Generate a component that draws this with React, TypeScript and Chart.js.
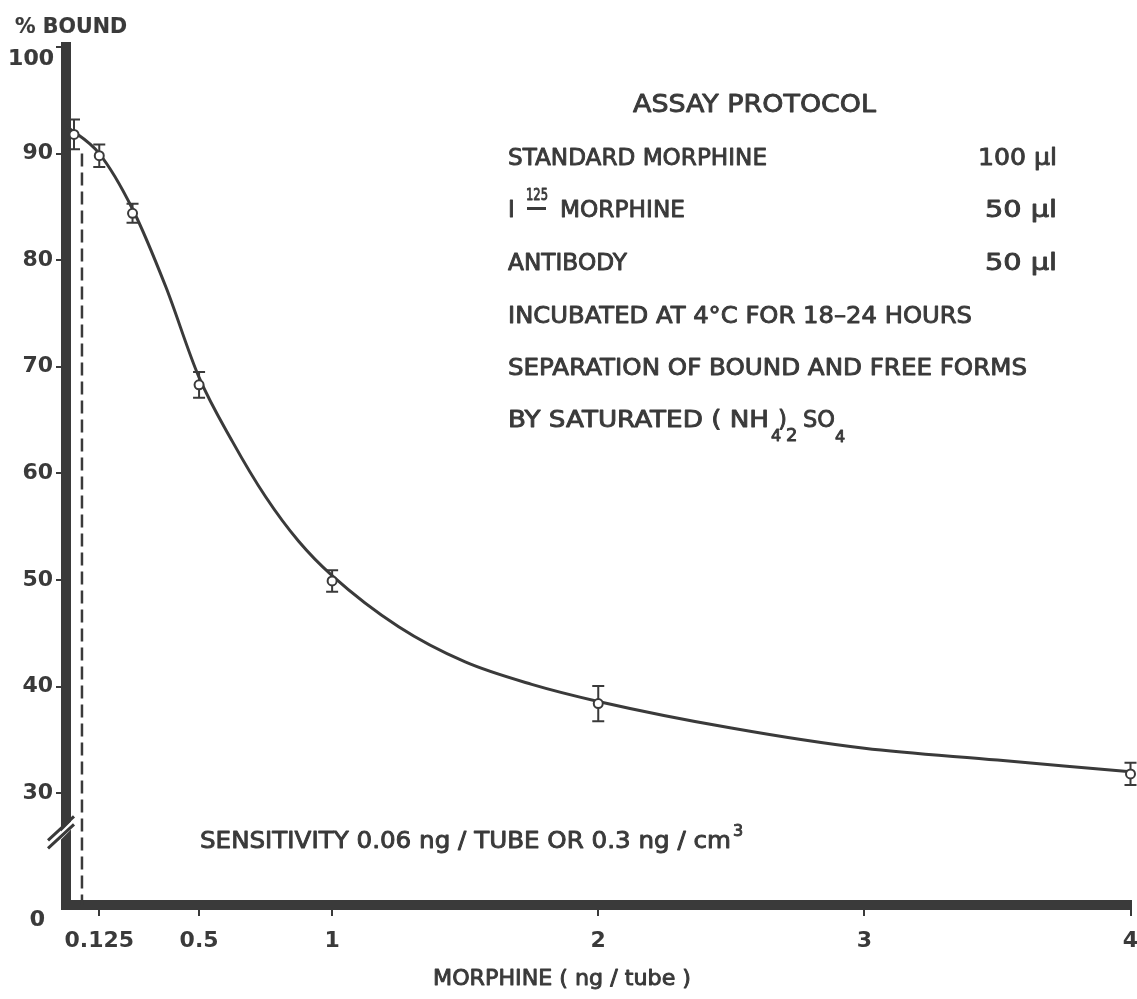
import React, { useEffect, useRef } from 'react';
import { Chart, registerables } from 'chart.js';

Chart.register(...registerables);

// ---- data ----
const concentrations = [0, 0.125, 0.25, 0.5, 1, 2, 4];
const boundMeans = [91.8, 89.8, 84.4, 68.3, 49.9, 38.4, 31.8];
const boundErrors = [1.4, 1.05, 0.9, 1.2, 1.0, 1.65, 1.05];

const curveX = [0, 0.125, 0.25, 0.375, 0.5, 0.625, 0.75, 0.875, 1, 1.25, 1.5, 1.75, 2, 2.5, 3, 3.5, 4];
const curveY = [92.6, 90.0, 84.8, 77.5, 69.0, 63.0, 57.8, 53.6, 50.4, 45.6, 42.3, 40.2, 38.6, 36.1, 34.2, 33.1, 32.0];

const xTickValues = [0.125, 0.5, 1, 2, 3, 4];
const yTickValues = [30, 40, 50, 60, 70, 80, 90, 100];

const sensitivityX = 0.06;
const sensitivityTop = 90;
const yAxisMin = 19.5;
const yAxisMax = 100;
const breakValue = 26.5;

const INK = '#3a3a3a';
const FONT = '"DejaVu Sans", "Liberation Sans", sans-serif';

// draw text (regular weight, slightly emboldened), optionally stretched/condensed to a target width
function txt(ctx: CanvasRenderingContext2D, s: string, x: number, y: number, size: number, targetW?: number, align: CanvasTextAlign = 'left', bold = false) {
  ctx.save();
  ctx.font = `${bold ? 'bold ' : ''}${size}px ${FONT}`;
  ctx.textAlign = align;
  ctx.textBaseline = 'alphabetic';
  ctx.fillStyle = INK;
  ctx.strokeStyle = INK;
  ctx.lineJoin = 'round';
  const natural = ctx.measureText(s).width;
  const k = targetW ? targetW / natural : 1;
  ctx.translate(x, y);
  ctx.scale(k, 1);
  ctx.lineWidth = bold ? 0.2 : 0.9;
  ctx.fillText(s, 0, 0);
  ctx.strokeText(s, 0, 0);
  ctx.restore();
}

const paperPlugin = {
  id: 'paper',
  beforeDraw(chart: any) {
    const ctx = chart.ctx;
    ctx.save();
    ctx.fillStyle = '#ffffff';
    ctx.fillRect(0, 0, chart.width, chart.height);
    ctx.restore();
  },
};

const errorBarPlugin = {
  id: 'errorBars',
  beforeDatasetsDraw(chart: any) {
    const ctx = chart.ctx;
    const xs = chart.scales.x;
    const ys = chart.scales.y;
    ctx.save();
    ctx.strokeStyle = INK;
    ctx.lineWidth = 2;
    concentrations.forEach((c, i) => {
      const px = xs.getPixelForValue(c) + (c === 0 ? 8 : 0);
      const top = ys.getPixelForValue(boundMeans[i] + boundErrors[i]);
      const bot = ys.getPixelForValue(boundMeans[i] - boundErrors[i]);
      ctx.beginPath();
      ctx.moveTo(px, top);
      ctx.lineTo(px, bot);
      ctx.moveTo(px - 6, top);
      ctx.lineTo(px + 6, top);
      ctx.moveTo(px - 6, bot);
      ctx.lineTo(px + 6, bot);
      ctx.stroke();
    });
    ctx.restore();
  },
};

const annotationPlugin = {
  id: 'annotations',
  afterDraw(chart: any) {
    const ctx = chart.ctx;
    const ys = chart.scales.y;
    const xs = chart.scales.x;
    ctx.save();

    // axis break marks
    const by = ys.getPixelForValue(breakValue);
    const ax = xs.left;
    ctx.fillStyle = '#ffffff';
    ctx.beginPath();
    ctx.moveTo(ax - 8, by + 4);
    ctx.lineTo(ax + 8, by - 12);
    ctx.lineTo(ax + 8, by - 4);
    ctx.lineTo(ax - 8, by + 12);
    ctx.closePath();
    ctx.fill();
    ctx.strokeStyle = INK;
    ctx.lineWidth = 3;
    ctx.beginPath();
    ctx.moveTo(ax - 18, by + 10);
    ctx.lineTo(ax + 8, by - 14);
    ctx.moveTo(ax - 18, by + 18);
    ctx.lineTo(ax + 8, by - 6);
    ctx.stroke();

    // axis titles and end labels
    txt(ctx, '% BOUND', 15, 33, 21, 112, 'left', true);
    txt(ctx, '100', 54, 65, 22, undefined, 'right', true);
    txt(ctx, '0', 45, 926, 22, undefined, 'right', true);
    txt(ctx, 'MORPHINE ( ng / tube )', 433, 985, 21, 258);

    // protocol box
    txt(ctx, 'ASSAY PROTOCOL', 633, 112, 25, 243);
    txt(ctx, 'STANDARD MORPHINE', 508, 165, 23, 259);
    txt(ctx, '100 µl', 1057, 165, 23, 79, 'right');
    txt(ctx, 'I', 508, 217, 23);
    txt(ctx, '125', 526, 200, 16, 22);
    ctx.fillStyle = INK;
    ctx.fillRect(527, 207, 19, 3);
    txt(ctx, 'MORPHINE', 560, 217, 23, 125);
    txt(ctx, '50 µl', 1057, 217, 23, 72, 'right');
    txt(ctx, 'ANTIBODY', 508, 270, 23, 119);
    txt(ctx, '50 µl', 1057, 270, 23, 72, 'right');
    txt(ctx, 'INCUBATED AT 4°C FOR 18–24 HOURS', 508, 323, 23, 464);
    txt(ctx, 'SEPARATION OF BOUND AND FREE FORMS', 508, 375, 23, 519);
    txt(ctx, 'BY SATURATED ( NH', 508, 427, 23, 261);
    txt(ctx, '4', 771, 441, 16);
    txt(ctx, ')', 778, 427, 23);
    txt(ctx, '2', 786, 441, 18);
    txt(ctx, 'SO', 803, 427, 23, 32);
    txt(ctx, '4', 835, 442, 16);

    // sensitivity note
    txt(ctx, 'SENSITIVITY 0.06 ng / TUBE OR 0.3 ng / cm', 200, 848, 23, 531);
    txt(ctx, '3', 733, 836, 16);

    ctx.restore();
  },
};

export default function App() {
  const ref = useRef<HTMLCanvasElement | null>(null);

  useEffect(() => {
    if (!ref.current) return;
    const pointData = concentrations.map((c, i) => ({ x: c === 0 ? 0.03 : c, y: boundMeans[i] }));
    const curveData = curveX.map((x, i) => ({ x, y: curveY[i] }));
    const dashData = [
      { x: sensitivityX, y: sensitivityTop },
      { x: sensitivityX, y: yAxisMin },
    ];

    const tickFont = { family: FONT, size: 22, weight: 'bold' };

    const chart = new Chart(ref.current, {
      type: 'scatter',
      data: {
        datasets: [
          {
            label: 'measured',
            data: pointData,
            showLine: false,
            pointRadius: 4.5,
            pointBackgroundColor: '#ffffff',
            pointBorderColor: INK,
            pointBorderWidth: 2,
            clip: false,
          } as any,
          {
            label: 'sensitivity',
            data: dashData,
            showLine: true,
            borderColor: INK,
            borderWidth: 2.5,
            borderDash: [13, 6],
            pointRadius: 0,
            clip: false,
          } as any,
          {
            label: 'fit',
            data: curveData,
            showLine: true,
            borderColor: INK,
            borderWidth: 3,
            cubicInterpolationMode: 'monotone',
            pointRadius: 0,
            clip: false,
          } as any,
        ],
      },
      options: {
        animation: false,
        responsive: false,
        devicePixelRatio: 1,
        layout: { padding: { top: 47, right: 6, left: 0, bottom: 0 } },
        plugins: {
          legend: { display: false },
          tooltip: { enabled: false },
        },
        scales: {
          x: {
            type: 'linear',
            min: 0,
            max: 4,
            afterBuildTicks: (s: any) => {
              s.ticks = xTickValues.map((v) => ({ value: v }));
            },
            afterFit: (s: any) => {
              s.height = 94;
              s.paddingLeft = 0;
              s.paddingRight = 0;
            },
            border: { display: true, width: 10, color: INK },
            grid: { drawOnChartArea: false, drawTicks: true, tickLength: 11, color: INK, lineWidth: 2 },
            ticks: {
              autoSkip: false,
              maxRotation: 0,
              padding: 12,
              color: INK,
              font: tickFont,
              callback: (v: any) => String(v),
            },
          },
          y: {
            type: 'linear',
            min: yAxisMin,
            max: yAxisMax,
            afterBuildTicks: (s: any) => {
              s.ticks = yTickValues.map((v) => ({ value: v }));
            },
            afterFit: (s: any) => {
              s.width = 66;
              s.paddingTop = 0;
              s.paddingBottom = 0;
            },
            border: { display: true, width: 10, color: INK },
            grid: { drawOnChartArea: false, drawTicks: true, tickLength: 10, color: INK, lineWidth: 2 },
            ticks: {
              padding: 3,
              color: INK,
              font: tickFont,
              // the top label (100) is drawn a little lower by the annotation plugin, as in the original
              callback: (v: any) => (v === yAxisMax ? '' : String(v)),
            },
          },
        },
      } as any,
      plugins: [paperPlugin, errorBarPlugin, annotationPlugin],
    });
    return () => chart.destroy();
  }, []);

  return (
    <div style={{ position: 'absolute', left: 0, top: 0, width: 1137, height: 999, background: '#fff' }}>
      <canvas ref={ref} width={1137} height={999} style={{ width: 1137, height: 999, display: 'block' }} />
    </div>
  );
}
